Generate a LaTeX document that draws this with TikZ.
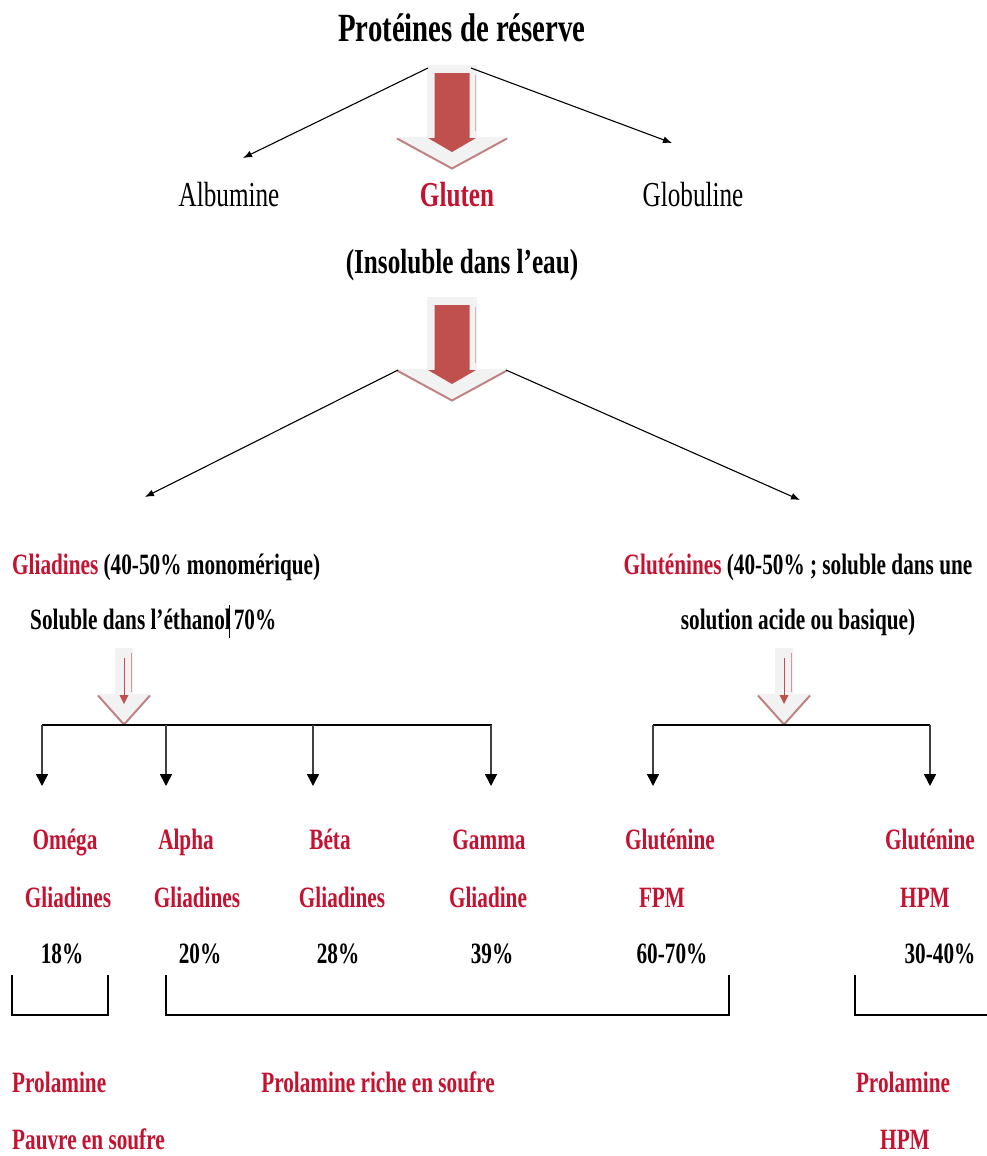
\documentclass[tikz,border=0pt]{standalone}
\usepackage{fontspec}
\setmainfont{Liberation Serif}[FakeStretch=0.72]
\usetikzlibrary{arrows.meta}
\definecolor{txtred}{RGB}{196,18,48}
\definecolor{arrred}{RGB}{192,80,77}
\definecolor{arrfill}{RGB}{242,242,242}
\definecolor{arrshadow}{RGB}{190,130,130}
\tikzset{
  title/.style={font=\fontsize{40}{42}\selectfont\bfseries, inner sep=0pt, text height=32pt, text depth=5.6pt},
  upper/.style={font=\fontsize{35}{37}\selectfont, inner sep=0pt, text height=28pt, text depth=5pt},
  upperb/.style={font=\fontsize{35}{37}\selectfont\bfseries, inner sep=0pt, text height=28pt, text depth=5pt},
  lower/.style={font=\fontsize{29.5}{31}\selectfont\bfseries, inner sep=0pt, text height=24pt, text depth=4.5pt},
  redtxt/.style={text=txtred},
  conn/.style={line width=1.1pt, -{Latex[length=9pt,width=7pt]}},
  branch/.style={line width=1.6pt, draw=black!75, -{Triangle[length=12pt,width=12pt,color=black]}},
  bar/.style={line width=1.8pt},
  bracket/.style={line width=1.4pt},
  pics/bigdown/.style={code={
    \fill[arrfill] (-25,0) -- (25,0) -- (25,72) -- (55,72) -- (0,102) -- (-55,72) -- (-25,72) -- cycle;
    \draw[arrshadow, line width=2pt] (-55,73.5) -- (0,103.5) -- (55,73.5);
    \draw[arrshadow!60, line width=1pt] (23,10) -- (23,66);
    \fill[arrred] (-17.5,8) -- (17.5,8) -- (17.5,73) -- (24,73) -- (0,87) -- (-24,73) -- (-17.5,73) -- cycle;
  }},
  pics/smalldown/.style={code={
    \fill[arrfill] (-9,0) -- (9,0) -- (9,46) -- (26,46) -- (0,75) -- (-26,46) -- (-9,46) -- cycle;
    \draw[arrshadow, line width=2pt] (-26,47.5) -- (0,76.5) -- (26,47.5);
    \draw[arrshadow!80, line width=1pt] (7,5) -- (7,44);
    \draw[arrred, line width=0.8pt] (0,10) -- (0,48);
    \fill[arrred] (-4.5,47) -- (4.5,47) -- (0,56) -- cycle;
  }}
}
\begin{document}
\begin{tikzpicture}[x=1pt,y=-1pt]
\useasboundingbox (0,0) rectangle (987,1156);
\fill[white] (0,0) rectangle (987,1156);

% title and first level
\node[title] (title) at (462,28) {Protéines de réserve};
\pic at (452,65) {bigdown};
\coordinate (a1s) at (428,68);
\coordinate (a1e) at (243,158);
\coordinate (a2s) at (471,68);
\coordinate (a2e) at (672,143);
\draw[conn] (a1s) -- (a1e);
\draw[conn] (a2s) -- (a2e);
\node[upper] (albumine) at (229,195) {Albumine};
\node[upperb, redtxt] (gluten) at (457,195) {Gluten};
\node[upper] (globuline) at (693,195) {Globuline};
\node[upperb] (insol) at (462,262) {(Insoluble dans l’eau)};

% second arrow
\pic at (452,297) {bigdown};
\coordinate (b1s) at (398,370);
\coordinate (b1e) at (145,497);
\coordinate (b2s) at (506,370);
\coordinate (b2e) at (800,500);
\draw[conn] (b1s) -- (b1e);
\draw[conn] (b2s) -- (b2e);

% Gliadines / Gluténines
\node[lower, anchor=west] (glia) at (12,565) {\textcolor{txtred}{Gliadines} (40-50\% monomérique)};
\node[lower, anchor=west] (solu) at (30,620) {Soluble dans l’éthanol\hspace{3pt}70\%};
\draw[line width=1pt] (229,605) -- (229,638);
\node[lower] (glut) at (798,565) {\textcolor{txtred}{Gluténines} (40-50\% ; soluble dans une};
\node[lower] (acid) at (798,620) {solution acide ou basique)};

% small arrows
\pic at (124,648) {smalldown};
\pic at (784,648) {smalldown};

% branches
\coordinate (l0) at (42,725);
\coordinate (l3) at (492,725);
\draw[bar] (l0) -- (l3);
\coordinate (r0) at (653,725);
\coordinate (r1) at (930,725);
\draw[bar] (r0) -- (r1);
\foreach \x/\n in {42/om,166/al,313/be,491/ga,653/fp,930/hp}{
  \coordinate (s\n) at (\x,725);
  \coordinate (e\n) at (\x,786);
  \draw[branch] (s\n) -- (e\n);
}

% labels
\node[lower, redtxt] (om1) at (65,840) {Oméga};
\node[lower, redtxt] (om2) at (68,898) {Gliadines};
\node[lower] (om3) at (62,954) {18\%};
\node[lower, redtxt] (al1) at (186,840) {Alpha};
\node[lower, redtxt] (al2) at (197,898) {Gliadines};
\node[lower] (al3) at (200,954) {20\%};
\node[lower, redtxt] (be1) at (330,840) {Béta};
\node[lower, redtxt] (be2) at (342,898) {Gliadines};
\node[lower] (be3) at (338,954) {28\%};
\node[lower, redtxt] (ga1) at (489,840) {Gamma};
\node[lower, redtxt] (ga2) at (488,898) {Gliadine};
\node[lower] (ga3) at (492,954) {39\%};
\node[lower, redtxt] (fp1) at (670,840) {Gluténine};
\node[lower, redtxt] (fp2) at (662,898) {FPM};
\node[lower] (fp3) at (672,954) {60-70\%};
\node[lower, redtxt] (hp1) at (930,840) {Gluténine};
\node[lower, redtxt] (hp2) at (925,898) {HPM};
\node[lower] (hp3) at (940,954) {30-40\%};

% brackets
\draw[bracket] (12,975) -- (12,1015) -- (108,1015) -- (108,975);
\draw[bracket] (166,975) -- (166,1015) -- (729,1015) -- (729,975);
\draw[bracket] (855,975) -- (855,1015) -- (987,1015);

% bottom labels
\node[lower, redtxt, anchor=west] (pr1) at (12,1083) {Prolamine};
\node[lower, redtxt, anchor=west] (pr2) at (12,1140) {Pauvre en soufre};
\node[lower, redtxt] (pr3) at (378,1083) {Prolamine riche en soufre};
\node[lower, redtxt] (pr4) at (903,1083) {Prolamine};
\node[lower, redtxt] (pr5) at (905,1140) {HPM};
\end{tikzpicture}
\end{document}
